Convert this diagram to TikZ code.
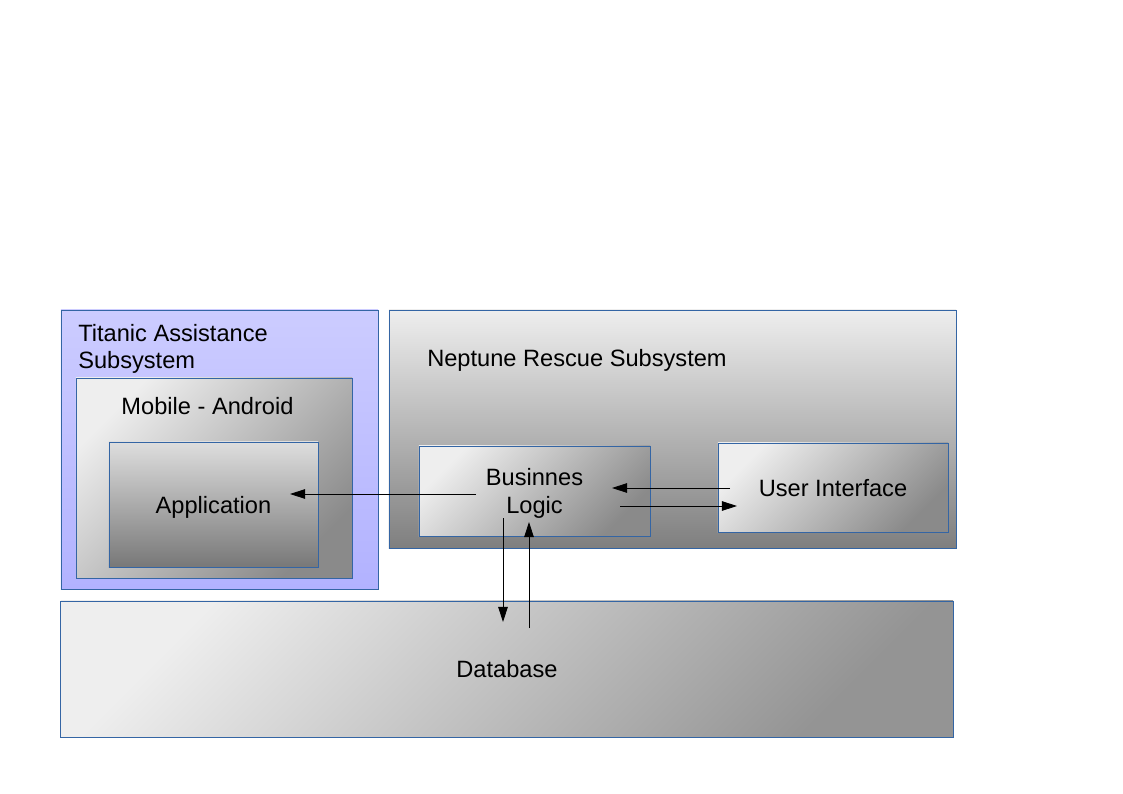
\documentclass[tikz,border=0pt]{standalone}
\usepackage{fontspec}
\setmainfont{Liberation Sans}
\usetikzlibrary{arrows.meta}
\definecolor{frameblue}{HTML}{3465A4}
\definecolor{lavender}{HTML}{CCCCFF}
\definecolor{lavenderdeep}{HTML}{B2B2FF}
\definecolor{paper}{HTML}{EEEEEE}
\definecolor{shadow}{HTML}{8A8A8A}
\tikzset{
    x=0.025cm, y=-0.025cm, % one unit is one pixel of the sketch. Change if necessary.
    }

\begin{document}
\begin{tikzpicture}[
font=\fontsize{16.8}{19.5}\selectfont,
boxnode/.style={rectangle, draw=frameblue, line width=0.6pt, inner sep=0pt, outer sep=0pt, text depth=0pt},
diagnode/.style={boxnode, top color=paper, bottom color=shadow, shading angle=45},
downnode/.style={boxnode, top color=paper, bottom color=shadow},
textnode/.style={inner sep=0pt, align=left},
flow/.style={line width=0.6pt, -{Triangle[length=3.8mm, width=2.4mm]}},
]
\useasboundingbox (0,0) rectangle (1123,794);

% outer boxes
\node[boxnode, top color=lavender, bottom color=lavenderdeep, minimum width=7.925cm, minimum height=6.975cm] (titanic) at (219.5,449.5) {};
\node[downnode, bottom color=shadow!92!black, minimum width=14.175cm, minimum height=5.95cm] (neptune) at (672.5,429) {};
\node[diagnode, bottom color=black!42, shading angle=45, minimum width=22.3cm, minimum height=3.4cm] (database) at (507,669) {Database};

% titanic side
\node[diagnode, minimum width=6.9cm, minimum height=5cm] (mobile) at (214,478) {};
\node[boxnode, top color=black!13, bottom color=black!53, minimum width=5.225cm, minimum height=3.125cm] (app) at (213.5,504.5) {Application};
\node[textnode, anchor=north west] (titanictext) at (78,324) {Titanic Assistance\\Subsystem};
\node[textnode] (mobiletext) at (207.5,406) {Mobile - Android};

% neptune side
\node[textnode] (neptunetext) at (577,360) {Neptune Rescue Subsystem};
\node[diagnode, minimum width=5.775cm, minimum height=2.25cm, align=center] (logic) at (534.5,491) {Businnes\\Logic};
\node[diagnode, minimum width=5.75cm, minimum height=2.225cm] (ui) at (833,487.5) {User Interface};

\coordinate (logicleft) at (476,494);
\coordinate (appin) at (290,494);
\coordinate (uiout) at (730,488);
\coordinate (logicin) at (612,488);
\coordinate (logicout) at (620,506);
\coordinate (uiin) at (737,506);
\coordinate (logicdown) at (503,518);
\coordinate (dbin) at (503,622);
\coordinate (dbout) at (529,628);
\coordinate (logicup) at (529,522);

\draw[flow] (logicleft) -- (appin);
\draw[flow] (uiout) -- (logicin);
\draw[flow] (logicout) -- (uiin);
\draw[flow] (logicdown) -- (dbin);
\draw[flow] (dbout) -- (logicup);

\end{tikzpicture}
\end{document}
